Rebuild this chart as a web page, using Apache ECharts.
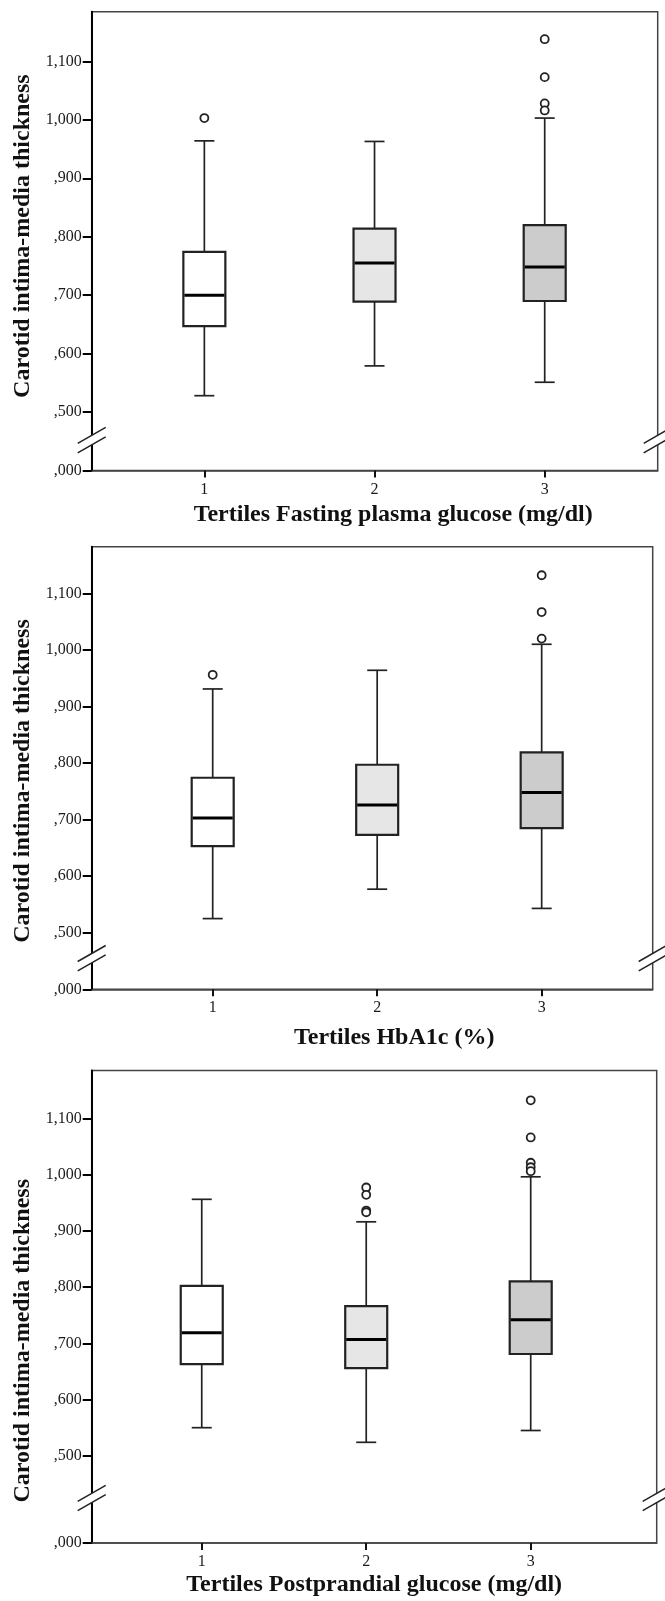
<!DOCTYPE html>
<html><head><meta charset="utf-8">
<script src="https://cdn.jsdelivr.net/npm/echarts@6/dist/echarts.min.js"></script>
<style>html,body{margin:0;padding:0;background:#fff}#c{width:665px;height:1601px}</style>
</head><body><div id="c"></div>
<script>
// ---- data ----
const categories = [1, 2, 3];
const yTicks = [0.5, 0.6, 0.7, 0.8, 0.9, 1.0, 1.1];
const yTitle = 'Carotid intima-media thickness';
const xTitles = ['Tertiles Fasting plasma glucose (mg/dl)', 'Tertiles HbA1c (%)', 'Tertiles Postprandial glucose (mg/dl)'];
// each box: [lower whisker, Q1, median, Q3, upper whisker]
const fpgBoxes = [[0.528, 0.647, 0.700, 0.774, 0.964], [0.579, 0.689, 0.755, 0.814, 0.963], [0.551, 0.690, 0.748, 0.820, 1.003]];
const fpgOutliers = [[1, 1.003], [3, 1.138], [3, 1.073], [3, 1.028], [3, 1.016]];
const hbaBoxes = [[0.525, 0.653, 0.703, 0.774, 0.931], [0.577, 0.673, 0.726, 0.797, 0.964], [0.543, 0.685, 0.748, 0.819, 1.010]];
const hbaOutliers = [[1, 0.956], [3, 1.132], [3, 1.067], [3, 1.020]];
const ppgBoxes = [[0.550, 0.663, 0.719, 0.802, 0.956], [0.524, 0.656, 0.707, 0.766, 0.916], [0.545, 0.681, 0.742, 0.810, 0.996]];
const ppgOutliers = [[2, 0.977], [2, 0.964], [2, 0.936], [2, 0.933], [3, 1.132], [3, 1.066], [3, 1.021], [3, 1.013], [3, 1.006]];

// ---- layout / style ----
const boxFills = ['#ffffff', '#e6e6e6', '#cccccc'];
const FONT = 'Liberation Serif';
const panels = [
  { boxes: fpgBoxes, outliers: fpgOutliers, title: xTitles[0],
    grid: { left: 91.7, top: 11.7, width: 566, height: 458.8 }, x: [0.338, 3.664], y: [0.4, 1.185], brk: 0.452,
    yPad: [0, 0, 0, 10], xPad: [0, 0, 0, 37], xGap: 32, lblMargin: 11 },
  { boxes: hbaBoxes, outliers: hbaOutliers, title: xTitles[1],
    grid: { left: 91.7, top: 546.7, width: 561, height: 442.6 }, x: [0.2644, 3.675], y: [0.4, 1.1825], brk: 0.455,
    yPad: [0, 26, 0, 0], xPad: [0, 0, 0, 44], xGap: 36, lblMargin: 10.5 },
  { boxes: ppgBoxes, outliers: ppgOutliers, title: xTitles[2],
    grid: { left: 91.7, top: 1070.5, width: 565, height: 472.5 }, x: [0.331, 3.766], y: [0.345, 1.185], brk: 0.425,
    yPad: [0, 68, 0, 0], xPad: [0, 0, 0, 0], xGap: 30, lblMargin: 11 }
];

function fmt(min) {
  return function (v) {
    if (Math.abs(v - min) < 1e-6) return ',000';
    return v.toFixed(3).replace('.', ',').replace(/^0/, '');
  };
}

function renderBox(params, api) {
  const x = api.value(0);
  const p = [1, 2, 3, 4, 5].map(i => api.coord([x, api.value(i)]));
  const cx = p[0][0];
  const half = 21, cap = 10;
  const ls = { stroke: '#222', lineWidth: 1.7 };
  return { type: 'group', children: [
    { type: 'line', shape: { x1: cx, y1: p[4][1], x2: cx, y2: p[3][1] }, style: ls },
    { type: 'line', shape: { x1: cx, y1: p[1][1], x2: cx, y2: p[0][1] }, style: ls },
    { type: 'line', shape: { x1: cx - cap, y1: p[4][1], x2: cx + cap, y2: p[4][1] }, style: ls },
    { type: 'line', shape: { x1: cx - cap, y1: p[0][1], x2: cx + cap, y2: p[0][1] }, style: ls },
    { type: 'rect', shape: { x: cx - half, y: p[3][1], width: 2 * half, height: p[1][1] - p[3][1] },
      style: { fill: boxFills[params.dataIndex], stroke: '#222', lineWidth: 2.2 } },
    { type: 'line', shape: { x1: cx - half + 1, y1: p[2][1], x2: cx + half - 1, y2: p[2][1] }, style: { stroke: '#000', lineWidth: 3 } }
  ] };
}

function renderBreak(params, api) {
  const c = api.coord([api.value(0), api.value(1)]);
  const cx = c[0], cy = c[1], dx = 14, dy = 8, sep = 4.7;
  const ls = { stroke: '#222', lineWidth: 1.5 };
  return { type: 'group', children: [
    { type: 'polygon', shape: { points: [[cx - dx, cy + dy - sep], [cx + dx, cy - dy - sep], [cx + dx, cy - dy + sep], [cx - dx, cy + dy + sep]] },
      style: { fill: '#fff' } },
    { type: 'line', shape: { x1: cx - dx, y1: cy + dy - sep, x2: cx + dx, y2: cy - dy - sep }, style: ls },
    { type: 'line', shape: { x1: cx - dx, y1: cy + dy + sep, x2: cx + dx, y2: cy - dy + sep }, style: ls }
  ] };
}

const option = { animation: false, backgroundColor: '#fff', grid: [], xAxis: [], yAxis: [], series: [] };
panels.forEach((P, i) => {
  option.grid.push(Object.assign({ show: true, borderColor: '#444', borderWidth: 1.5, backgroundColor: 'transparent', containLabel: false }, P.grid));
  option.xAxis.push({
    type: 'value', gridIndex: i, min: P.x[0], max: P.x[1],
    name: P.title, nameLocation: 'middle', nameGap: P.xGap,
    nameTextStyle: { fontFamily: FONT, fontWeight: 'bold', fontSize: 24, color: '#111', padding: P.xPad },
    axisLine: { show: true, onZero: false, lineStyle: { color: '#444', width: 1.5 } },
    axisTick: { show: true, length: 7, customValues: categories, lineStyle: { color: '#111', width: 2 } },
    axisLabel: { show: true, customValues: categories, margin: P.lblMargin, fontFamily: FONT, fontSize: 16, color: '#1a1a1a', formatter: v => String(v) },
    splitLine: { show: false }
  });
  const ticks = [P.y[0]].concat(yTicks);
  option.yAxis.push({
    type: 'value', gridIndex: i, min: P.y[0], max: P.y[1],
    name: yTitle, nameLocation: 'middle', nameGap: 55,
    nameTextStyle: { fontFamily: FONT, fontWeight: 'bold', fontSize: 24, color: '#111', padding: P.yPad },
    axisLine: { show: true, onZero: false, lineStyle: { color: '#000', width: 2 } },
    axisTick: { show: true, length: 9, customValues: ticks, lineStyle: { color: '#000', width: 2 } },
    axisLabel: { show: true, customValues: ticks, margin: 10, fontFamily: FONT, fontSize: 16, color: '#1a1a1a', formatter: fmt(P.y[0]) },
    splitLine: { show: false }
  });
  option.series.push({
    type: 'custom', xAxisIndex: i, yAxisIndex: i, clip: false, z: 3,
    data: P.boxes.map((b, k) => [categories[k]].concat(b)),
    encode: { x: 0, y: [1, 2, 3, 4, 5] },
    renderItem: renderBox
  });
  option.series.push({
    type: 'scatter', xAxisIndex: i, yAxisIndex: i, z: 4,
    symbol: 'circle', symbolSize: 8,
    itemStyle: { color: '#fff', borderColor: '#222', borderWidth: 1.8, opacity: 1 },
    data: P.outliers
  });
  option.series.push({
    type: 'custom', xAxisIndex: i, yAxisIndex: i, clip: false, z: 5, silent: true,
    data: [[P.x[0], P.brk], [P.x[1], P.brk]],
    renderItem: renderBreak
  });
});

const chart = echarts.init(document.getElementById('c'), null, { renderer: 'canvas' });
chart.setOption(option);
</script>
</body></html>
